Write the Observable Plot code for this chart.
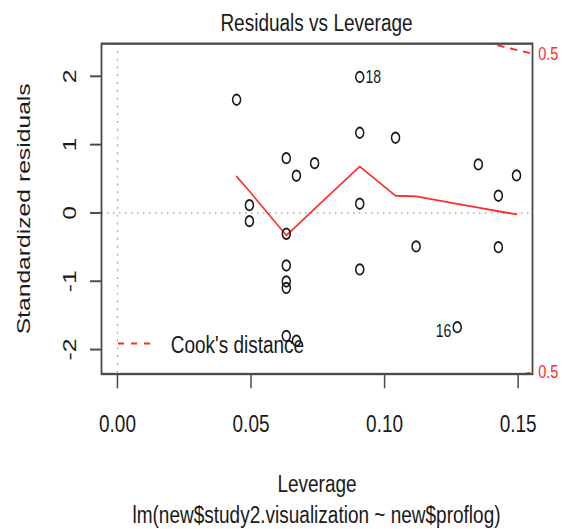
<!DOCTYPE html>
<html>
<head>
<meta charset="utf-8">
<script src="https://cdn.jsdelivr.net/npm/d3@7"></script>
<script src="https://cdn.jsdelivr.net/npm/@observablehq/plot@0.6"></script>
<style>
  html { overflow: hidden; }
  html, body { margin: 0; padding: 0; background: #fff; }
  body { height: 529px; }
  /* the figure is laid out at 564x407 and stretched vertically to fill the page */
  #figure {
    width: 564px; height: 407px;
    transform: scale(1, 1.3); transform-origin: 0 0;
    font-family: "Liberation Sans", Arial, Helvetica, sans-serif;
    color: #1a1a1a;
  }
  .title {
    box-sizing: border-box; height: 29px; padding-top: 7px; line-height: 22px;
    font-size: 19px; margin-left: 101px; width: 431px; text-align: center; white-space: nowrap;
  }
  .caption {
    height: 24px; line-height: 24px;
    font-size: 19px; margin-left: 101px; width: 431px; text-align: center; white-space: nowrap;
  }
  #figure svg { display: block; }
</style>
</head>
<body>
<div id="figure">
  <div class="title">Residuals vs Leverage</div>
  <div id="plot"></div>
  <div class="caption">lm(new$study2.visualization ~ new$proflog)</div>
</div>
<script>
// Leverage (hat values) and standardized residuals of the fitted model
const leverage = [0.0446, 0.0494, 0.0494, 0.0632, 0.0632, 0.0632, 0.0632, 0.0632, 0.0632, 0.0670, 0.0670, 0.0738,
                  0.0907, 0.0907, 0.0907, 0.0907, 0.1041, 0.1118, 0.1272, 0.1351, 0.1426, 0.1426, 0.1494];
const stdResid = [1.657, 0.114, -0.120, 0.802, -0.305, -0.769, -1.003, -1.098, -1.80, 0.545, -1.87, 0.729,
                  1.99, 1.174, 0.135, -0.827, 1.101, -0.490, -1.672, 0.710, 0.252, -0.501, 0.549];
// observation numbers shown next to the most extreme points
const obsLabel = ["", "", "", "", "", "", "", "", "", "", "", "",
                  "18", "", "", "", "", "", "16", "", "", "", ""];

// lowess smooth of the residuals against leverage
const smoothLev = [0.0446, 0.0494, 0.0632, 0.0670, 0.0738, 0.0907, 0.1041, 0.1118, 0.1272, 0.1351, 0.1426, 0.1494];
const smoothResid = [0.534, 0.319, -0.329, -0.192, 0.060, 0.681, 0.252, 0.242, 0.133, 0.078, 0.025, -0.022];

// Cook's distance contour levels for a model with two coefficients
const cookLevels = [0.5];
const nCoef = 2;

const xTicks = [0, 0.05, 0.10, 0.15];
const yTicks = [-2, -1, 0, 1, 2];

const red = "#ff2a2a";
const ink = "#1a1a1a";
const boxColor = "#4a4a4a";
const dash = "6,7";

const points = leverage.map((h, i) => ({h, r: stdResid[i], id: obsLabel[i]}));
const smooth = smoothLev.map((h, i) => ({h, r: smoothResid[i]}));

// axis limits as R computes them: leverage from 0, residual range padded by 8%, then 4% axis padding
const ext = ([a, b], f) => [a - f * (b - a), b + f * (b - a)];
const xlim = ext([0, d3.max(leverage)], 0.04);
const ylim = ext(ext(d3.extent(stdResid), 0.08), 0.04);

// labels sit right of points in the left half of the leverage range, left of them otherwise
const midLev = d3.mean(d3.extent(leverage));

// Cook's distance curves r = ±sqrt(p·D·(1−h)/h)
const cookAt = (h, D) => Math.sqrt(nCoef * D * (1 - h) / h);
const contour = [];
for (const D of cookLevels) {
  const hs = d3.range(0, 101).map(i => 0.1 + (xlim[1] - 0.1) * i / 100);
  for (const sign of [1, -1]) {
    hs.forEach(h => contour.push({h, r: sign * cookAt(h, D), key: `${D}${sign}`}));
  }
}
const cookLabels = cookLevels.flatMap(D => [
  {r: cookAt(xlim[1], D), text: String(D)},
  {r: -cookAt(xlim[1], D), text: String(D)}
]);

// legend drawn in the lower-left corner of the plotting region
function cookLegend(index, scales, values, dims) {
  const {marginLeft, height, marginBottom} = dims;
  const bottom = height - marginBottom;
  const g = d3.create("svg:g");
  g.append("line")
    .attr("x1", marginLeft + 17).attr("x2", marginLeft + 49)
    .attr("y1", bottom - 23).attr("y2", bottom - 23)
    .attr("stroke", red).attr("stroke-width", 1.5).attr("stroke-dasharray", dash);
  g.append("text")
    .attr("x", marginLeft + 69.7).attr("y", bottom - 22)
    .attr("dy", "0.32em").attr("font-size", 19).attr("fill", ink)
    .attr("text-anchor", "start")
    .text("Cook's distance");
  return g.node();
}

const chart = Plot.plot({
  width: 564,
  height: 355,
  marginTop: 4.1,
  marginBottom: 96.8,
  marginLeft: 101,
  marginRight: 32,
  style: {
    fontFamily: "'Liberation Sans', Arial, Helvetica, sans-serif",
    fontSize: "19px",
    color: ink,
    background: "white",
    overflow: "visible"
  },
  x: {domain: xlim},
  y: {domain: ylim},
  marks: [
    Plot.ruleY([0], {stroke: "#a8a8a8", strokeWidth: 1.2, strokeDasharray: "1.5,4.5"}),
    Plot.ruleX([0], {stroke: "#a8a8a8", strokeWidth: 1.2, strokeDasharray: "1.5,4.5"}),
    Plot.line(contour, {x: "h", y: "r", z: "key", stroke: red, strokeWidth: 1.5, strokeDasharray: dash, clip: true}),
    Plot.line(smooth, {x: "h", y: "r", stroke: red, strokeWidth: 1.4}),
    Plot.dot(points, {x: "h", y: "r", r: 4, stroke: ink, strokeWidth: 1.5, fill: "none"}),
    Plot.text(points.filter(d => d.id && d.h <= midLev), {
      x: "h", y: "r", text: "id", textAnchor: "start", dx: 5.7, fontSize: 14, fill: ink
    }),
    Plot.text(points.filter(d => d.id && d.h > midLev), {
      x: "h", y: "r", text: "id", textAnchor: "end", dx: -6, dy: 3, fontSize: 14, fill: ink
    }),
    Plot.text(cookLabels, {
      y: "r", text: "text", frameAnchor: "right", textAnchor: "start", dx: 5.7, fontSize: 14.5, fill: red
    }),
    Plot.frame({stroke: boxColor, strokeWidth: 1.8}),
    Plot.axisX({
      ticks: xTicks, tickSize: 11.5, tickPadding: 19.3, tickFormat: d3.format(".2f"),
      stroke: boxColor, strokeWidth: 1.5, label: null
    }),
    Plot.axisY({
      ticks: yTicks, tickSize: 11, tickPadding: 15, tickRotate: -90, tickFormat: d => `${d}`,
      stroke: boxColor, strokeWidth: 1.5, label: null
    }),
    Plot.text(["Leverage"], {frameAnchor: "bottom", lineAnchor: "bottom", dy: 91, fill: ink}),
    Plot.text(["Standardized residuals"], {
      frameAnchor: "left", rotate: -90, textAnchor: "middle", lineAnchor: "bottom", dx: -71.7, fill: ink
    }),
    cookLegend
  ]
});

document.getElementById("plot").append(chart);
</script>
</body>
</html>
